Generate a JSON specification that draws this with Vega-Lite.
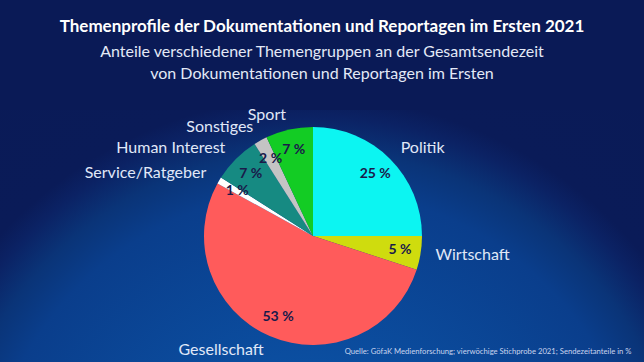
{
  "$schema": "https://vega.github.io/schema/vega-lite/v6.json",
  "width": 662,
  "height": 252,
  "autosize": {"type": "none"},
  "padding": {"left": -18, "top": 110, "right": 0, "bottom": 0},
  "background": "#0a1a56",
  "config": {"view": {"stroke": null}},
  "title": {
    "text": "Themenprofile der Dokumentationen und Reportagen im Ersten 2021",
    "subtitle": ["Anteile verschiedener Themengruppen an der Gesamtsendezeit", "von Dokumentationen und Reportagen im Ersten"],
    "anchor": "middle",
    "frame": "group",
    "dx": 9,
    "offset": 24,
    "font": "Lato",
    "fontSize": 17,
    "fontWeight": "bold",
    "color": "#ffffff",
    "subtitleFont": "Lato",
    "subtitleFontSize": 16,
    "subtitleFontWeight": "normal",
    "subtitleColor": "#e3e9f7",
    "subtitleLineHeight": 22,
    "subtitlePadding": 8
  },
  "data": {
    "values": [
      {"Thema": "Politik", "Anteil": 25, "Rang": 1},
      {"Thema": "Wirtschaft", "Anteil": 5, "Rang": 2},
      {"Thema": "Gesellschaft", "Anteil": 53, "Rang": 3},
      {"Thema": "Service/Ratgeber", "Anteil": 1, "Rang": 4},
      {"Thema": "Human Interest", "Anteil": 7, "Rang": 5},
      {"Thema": "Sonstiges", "Anteil": 2, "Rang": 6},
      {"Thema": "Sport", "Anteil": 7, "Rang": 7}
    ]
  },
  "transform": [{"calculate": "datum.Anteil + ' %'", "as": "Prozent"}],
  "layer": [
    {
      "data": {"values": [{}]},
      "mark": {
        "type": "rect",
        "fill": {
          "gradient": "radial",
          "x1": 0.5, "y1": 0.93, "r1": 0,
          "x2": 0.5, "y2": 0.93, "r2": 1.0,
          "stops": [
            {"offset": 0, "color": "#0b54a8"},
            {"offset": 0.24, "color": "#0b4ea0"},
            {"offset": 0.5, "color": "#0a3e8c"},
            {"offset": 0.56, "color": "#0a3478"},
            {"offset": 0.61, "color": "#0b2264"},
            {"offset": 0.64, "color": "#0a1b58"},
            {"offset": 1, "color": "#0a1a56"}
          ]
        }
      },
      "encoding": {}
    },
    {
      "mark": {"type": "arc", "radius": 109},
      "encoding": {
        "theta": {"field": "Anteil", "type": "quantitative", "stack": true},
        "order": {"field": "Rang", "type": "quantitative"},
        "color": {
          "field": "Thema",
          "type": "nominal",
          "scale": {
            "domain": ["Politik", "Wirtschaft", "Gesellschaft", "Service/Ratgeber", "Human Interest", "Sonstiges", "Sport"],
            "range": ["#0cf5f2", "#cfdc0e", "#ff5b5b", "#ffffff", "#168a82", "#c4c4c4", "#13cc24"]
          },
          "legend": null
        }
      }
    },
    {
      "mark": {"type": "text", "radius": 88, "font": "Lato", "fontSize": 14, "fontWeight": "bold", "fill": "#1a1a4a", "baseline": "middle", "align": "center"},
      "encoding": {
        "theta": {"field": "Anteil", "type": "quantitative", "stack": true},
        "order": {"field": "Rang", "type": "quantitative"},
        "text": {"field": "Prozent", "type": "nominal"}
      }
    },
    {
      "mark": {
        "type": "text", "radius": 124, "font": "Lato", "fontSize": 16, "fill": "#e0e8f8", "baseline": "middle",
        "align": {"expr": "datum.Thema == 'Politik' || datum.Thema == 'Wirtschaft' ? 'left' : 'right'"}
      },
      "encoding": {
        "theta": {"field": "Anteil", "type": "quantitative", "stack": true},
        "order": {"field": "Rang", "type": "quantitative"},
        "text": {"field": "Thema", "type": "nominal"}
      }
    },
    {
      "mark": {"type": "rule", "opacity": 0},
      "encoding": {
        "x": {
          "datum": 0,
          "type": "quantitative",
          "scale": {"domain": [0, 1]},
          "axis": {
            "title": "Quelle: GöfaK Medienforschung; vierwöchige Stichprobe 2021; Sendezeitanteile in %",
            "labels": false, "ticks": false, "domain": false, "grid": false,
            "titleX": 649, "titleAlign": "right",
            "titleFont": "Lato", "titleFontSize": 7.7, "titleFontWeight": "normal", "titleColor": "#c9d4ee",
            "offset": -15, "titlePadding": 0, "zindex": 1
          }
        }
      }
    }
  ]
}
